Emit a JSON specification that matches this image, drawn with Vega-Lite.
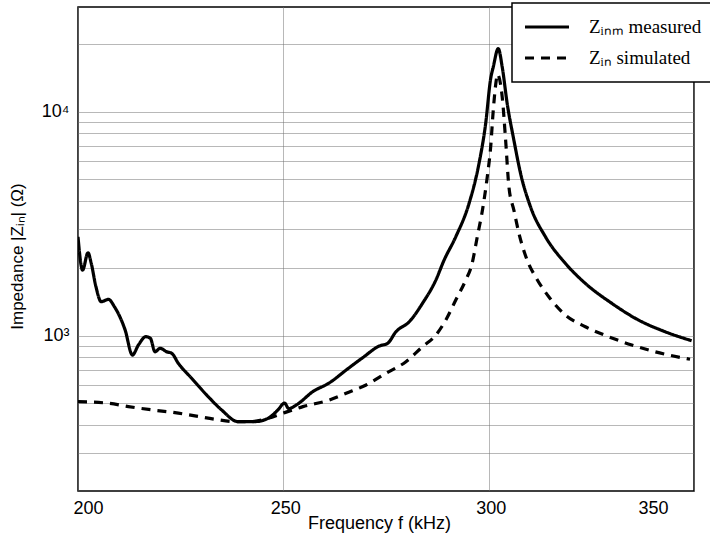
{
  "$schema": "https://vega.github.io/schema/vega-lite/v6.json",
  "width": 616,
  "height": 484,
  "autosize": {"type": "none"},
  "padding": {"left": 78, "top": 7, "right": 16, "bottom": 46},
  "background": "white",
  "config": {
    "view": {"stroke": "black", "strokeWidth": 1.5},
    "font": "Liberation Sans"
  },
  "data": {
    "values": [
      {"f": 200.0, "z": 2761, "series": "Zᵢₙₘ measured"},
      {"f": 201.12, "z": 1963, "series": "Zᵢₙₘ measured"},
      {"f": 202.43, "z": 2344, "series": "Zᵢₙₘ measured"},
      {"f": 203.23, "z": 2102, "series": "Zᵢₙₘ measured"},
      {"f": 204.37, "z": 1654, "series": "Zᵢₙₘ measured"},
      {"f": 205.66, "z": 1418, "series": "Zᵢₙₘ measured"},
      {"f": 207.43, "z": 1453, "series": "Zᵢₙₘ measured"},
      {"f": 208.88, "z": 1346, "series": "Zᵢₙₘ measured"},
      {"f": 211.48, "z": 1060, "series": "Zᵢₙₘ measured"},
      {"f": 213.25, "z": 820, "series": "Zᵢₙₘ measured"},
      {"f": 214.71, "z": 909, "series": "Zᵢₙₘ measured"},
      {"f": 216.5, "z": 990, "series": "Zᵢₙₘ measured"},
      {"f": 217.62, "z": 974, "series": "Zᵢₙₘ measured"},
      {"f": 218.76, "z": 848, "series": "Zᵢₙₘ measured"},
      {"f": 219.98, "z": 879, "series": "Zᵢₙₘ measured"},
      {"f": 221.6, "z": 848, "series": "Zᵢₙₘ measured"},
      {"f": 222.82, "z": 835, "series": "Zᵢₙₘ measured"},
      {"f": 224.42, "z": 754, "series": "Zᵢₙₘ measured"},
      {"f": 227.67, "z": 646, "series": "Zᵢₙₘ measured"},
      {"f": 231.7, "z": 535, "series": "Zᵢₙₘ measured"},
      {"f": 234.95, "z": 467, "series": "Zᵢₙₘ measured"},
      {"f": 238.98, "z": 414, "series": "Zᵢₙₘ measured"},
      {"f": 243.03, "z": 414, "series": "Zᵢₙₘ measured"},
      {"f": 246.26, "z": 428, "series": "Zᵢₙₘ measured"},
      {"f": 248.69, "z": 467, "series": "Zᵢₙₘ measured"},
      {"f": 250.3, "z": 501, "series": "Zᵢₙₘ measured"},
      {"f": 251.3, "z": 473, "series": "Zᵢₙₘ measured"},
      {"f": 253.16, "z": 491, "series": "Zᵢₙₘ measured"},
      {"f": 257.18, "z": 563, "series": "Zᵢₙₘ measured"},
      {"f": 261.24, "z": 617, "series": "Zᵢₙₘ measured"},
      {"f": 265.29, "z": 703, "series": "Zᵢₙₘ measured"},
      {"f": 269.32, "z": 798, "series": "Zᵢₙₘ measured"},
      {"f": 273.37, "z": 900, "series": "Zᵢₙₘ measured"},
      {"f": 275.39, "z": 925, "series": "Zᵢₙₘ measured"},
      {"f": 277.43, "z": 1042, "series": "Zᵢₙₘ measured"},
      {"f": 280.66, "z": 1154, "series": "Zᵢₙₘ measured"},
      {"f": 283.88, "z": 1394, "series": "Zᵢₙₘ measured"},
      {"f": 287.14, "z": 1771, "series": "Zᵢₙₘ measured"},
      {"f": 289.15, "z": 2174, "series": "Zᵢₙₘ measured"},
      {"f": 291.99, "z": 2762, "series": "Zᵢₙₘ measured"},
      {"f": 295.22, "z": 3890, "series": "Zᵢₙₘ measured"},
      {"f": 297.65, "z": 5866, "series": "Zᵢₙₘ measured"},
      {"f": 299.27, "z": 8842, "series": "Zᵢₙₘ measured"},
      {"f": 300.49, "z": 14035, "series": "Zᵢₙₘ measured"},
      {"f": 301.12, "z": 15800, "series": "Zᵢₙₘ measured"},
      {"f": 302.33, "z": 19090, "series": "Zᵢₙₘ measured"},
      {"f": 303.3, "z": 15800, "series": "Zᵢₙₘ measured"},
      {"f": 304.51, "z": 10855, "series": "Zᵢₙₘ measured"},
      {"f": 306.14, "z": 7450, "series": "Zᵢₙₘ measured"},
      {"f": 307.77, "z": 5293, "series": "Zᵢₙₘ measured"},
      {"f": 310.19, "z": 3757, "series": "Zᵢₙₘ measured"},
      {"f": 313.83, "z": 2762, "series": "Zᵢₙₘ measured"},
      {"f": 318.69, "z": 2102, "series": "Zᵢₙₘ measured"},
      {"f": 323.54, "z": 1712, "series": "Zᵢₙₘ measured"},
      {"f": 330.0, "z": 1394, "series": "Zᵢₙₘ measured"},
      {"f": 336.48, "z": 1175, "series": "Zᵢₙₘ measured"},
      {"f": 342.96, "z": 1042, "series": "Zᵢₙₘ measured"},
      {"f": 349.42, "z": 950, "series": "Zᵢₙₘ measured"},
      {"f": 200.0, "z": 508, "series": "Zᵢₙ simulated"},
      {"f": 207.43, "z": 500, "series": "Zᵢₙ simulated"},
      {"f": 212.28, "z": 483, "series": "Zᵢₙ simulated"},
      {"f": 217.96, "z": 467, "series": "Zᵢₙ simulated"},
      {"f": 223.62, "z": 454, "series": "Zᵢₙ simulated"},
      {"f": 228.47, "z": 439, "series": "Zᵢₙ simulated"},
      {"f": 233.33, "z": 424, "series": "Zᵢₙ simulated"},
      {"f": 238.18, "z": 414, "series": "Zᵢₙ simulated"},
      {"f": 242.23, "z": 414, "series": "Zᵢₙ simulated"},
      {"f": 246.26, "z": 428, "series": "Zᵢₙ simulated"},
      {"f": 250.32, "z": 454, "series": "Zᵢₙ simulated"},
      {"f": 254.76, "z": 483, "series": "Zᵢₙ simulated"},
      {"f": 261.24, "z": 517, "series": "Zᵢₙ simulated"},
      {"f": 265.29, "z": 554, "series": "Zᵢₙ simulated"},
      {"f": 270.15, "z": 603, "series": "Zᵢₙ simulated"},
      {"f": 275.0, "z": 680, "series": "Zᵢₙ simulated"},
      {"f": 279.86, "z": 766, "series": "Zᵢₙ simulated"},
      {"f": 283.88, "z": 893, "series": "Zᵢₙ simulated"},
      {"f": 287.14, "z": 1007, "series": "Zᵢₙ simulated"},
      {"f": 289.56, "z": 1175, "series": "Zᵢₙ simulated"},
      {"f": 291.99, "z": 1443, "series": "Zᵢₙ simulated"},
      {"f": 294.42, "z": 1771, "series": "Zᵢₙ simulated"},
      {"f": 295.87, "z": 2066, "series": "Zᵢₙ simulated"},
      {"f": 297.23, "z": 2762, "series": "Zᵢₙ simulated"},
      {"f": 298.62, "z": 3757, "series": "Zᵢₙ simulated"},
      {"f": 299.66, "z": 5112, "series": "Zᵢₙ simulated"},
      {"f": 300.49, "z": 6954, "series": "Zᵢₙ simulated"},
      {"f": 301.12, "z": 10134, "series": "Zᵢₙ simulated"},
      {"f": 301.85, "z": 13790, "series": "Zᵢₙ simulated"},
      {"f": 302.1, "z": 14670, "series": "Zᵢₙ simulated"},
      {"f": 303.3, "z": 11614, "series": "Zᵢₙ simulated"},
      {"f": 304.13, "z": 7450, "series": "Zᵢₙ simulated"},
      {"f": 304.93, "z": 4613, "series": "Zᵢₙ simulated"},
      {"f": 306.14, "z": 3632, "series": "Zᵢₙ simulated"},
      {"f": 307.36, "z": 2869, "series": "Zᵢₙ simulated"},
      {"f": 309.37, "z": 2174, "series": "Zᵢₙ simulated"},
      {"f": 311.6, "z": 1807, "series": "Zᵢₙ simulated"},
      {"f": 314.64, "z": 1492, "series": "Zᵢₙ simulated"},
      {"f": 318.69, "z": 1237, "series": "Zᵢₙ simulated"},
      {"f": 323.54, "z": 1097, "series": "Zᵢₙ simulated"},
      {"f": 329.2, "z": 990, "series": "Zᵢₙ simulated"},
      {"f": 334.85, "z": 909, "series": "Zᵢₙ simulated"},
      {"f": 340.53, "z": 848, "series": "Zᵢₙ simulated"},
      {"f": 349.03, "z": 785, "series": "Zᵢₙ simulated"}
    ]
  },
  "mark": {"type": "line", "color": "black", "strokeWidth": 3.2, "interpolate": "monotone", "clip": true},
  "encoding": {
    "x": {
      "field": "f",
      "type": "quantitative",
      "scale": {"domain": [200, 350], "nice": false, "zero": false},
      "axis": {
        "values": [200, 250, 300, 350],
        "title": "Frequency f (kHz)",
        "titleFont": "Liberation Sans",
        "titleFontSize": 18,
        "titleFontWeight": "normal",
        "titleColor": "black",
        "titleBaseline": "alphabetic",
        "titleAlign": "center",
        "titleX": 301,
        "titleY": 37,
        "labelFont": "Liberation Sans",
        "labelFontSize": 18,
        "labelColor": "black",
        "labelPadding": 8,
        "labelFlush": false,
        "labelOverlap": false,
        "labelBound": false,
        "labelOffset": {"expr": "datum.value == 200 ? 10 : datum.value == 350 ? -41 : 2"},
        "ticks": false,
        "domain": false,
        "grid": true,
        "gridColor": "#707070",
        "gridDash": [1, 1],
        "gridWidth": 1
      }
    },
    "y": {
      "field": "z",
      "type": "quantitative",
      "scale": {"type": "log", "domain": [203, 29250], "nice": false},
      "axis": {
        "values": [300, 400, 500, 600, 700, 800, 900, 1000, 2000, 3000, 4000, 5000, 6000, 7000, 8000, 9000, 10000, 20000],
        "labelExpr": "datum.value == 1000 ? '10³' : datum.value == 10000 ? '10⁴' : ''",
        "title": "Impedance |Zᵢₙ| (Ω)",
        "titleFont": "Liberation Sans",
        "titleFontSize": 17,
        "titleFontWeight": "normal",
        "titleColor": "black",
        "titleAngle": 270,
        "titleBaseline": "middle",
        "titleAlign": "center",
        "titleX": -61,
        "titleY": 249,
        "labelFont": "Liberation Sans",
        "labelFontSize": 18,
        "labelColor": "black",
        "labelPadding": 9,
        "labelOverlap": false,
        "ticks": false,
        "domain": false,
        "grid": true,
        "gridColor": "#707070",
        "gridDash": [1, 1],
        "gridWidth": 1
      }
    },
    "strokeDash": {
      "field": "series",
      "type": "nominal",
      "scale": {"domain": ["Zᵢₙₘ measured", "Zᵢₙ simulated"], "range": [[1, 0], [9, 7]]},
      "legend": {
        "title": null,
        "orient": "none",
        "legendX": 434,
        "legendY": -4,
        "padding": 11,
        "fillColor": "white",
        "strokeColor": "black",
        "cornerRadius": 0,
        "symbolType": "stroke",
        "symbolSize": 1936,
        "symbolStrokeColor": "black",
        "symbolStrokeWidth": 3.2,
        "clipHeight": 26,
        "rowPadding": 5,
        "labelOffset": 18,
        "labelFont": "Liberation Serif",
        "labelFontSize": 19,
        "labelColor": "black",
        "labelLimit": 400,
        "encode": {"legend": {"update": {"strokeWidth": {"value": 1.5}}}}
      }
    }
  }
}
